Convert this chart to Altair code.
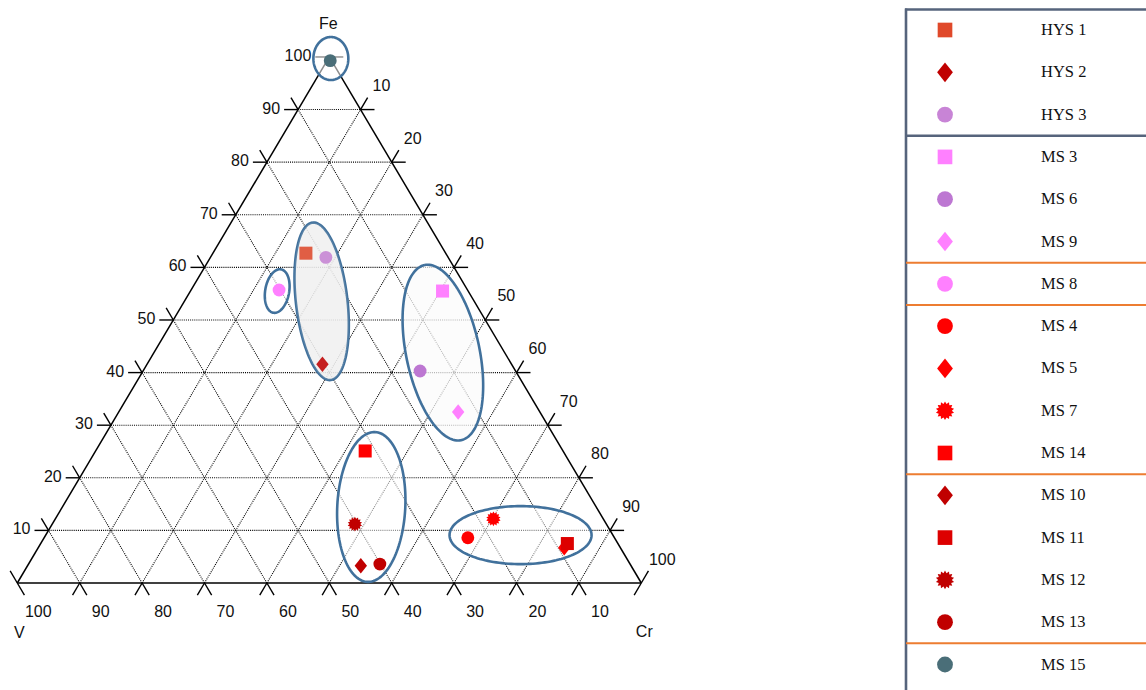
import numpy as np
import pandas as pd
import altair as alt

# ---------------- sample compositions (V + Cr + Fe = 100 %) ----------------
SERIES = ["HYS 1", "HYS 2", "HYS 3", "MS 3", "MS 6", "MS 9", "MS 8",
          "MS 4", "MS 5", "MS 7", "MS 14", "MS 10", "MS 11", "MS 12", "MS 13", "MS 15"]
MARKERS = ["square", "diamond", "circle", "square", "circle", "diamond", "circle",
           "circle", "diamond", "star", "square", "diamond", "square", "star", "circle", "circle"]
COLORS = ["#e0492a", "#c00000", "#c884d6", "#ff80ff", "#bd77d2", "#ff80ff", "#ff80ff",
          "#ff0000", "#ff0000", "#ff0000", "#ff0000", "#c00000", "#dd0000", "#c00000", "#c00000",
          "#4a6e78"]
FE = [62.7, 41.6, 61.9, 55.5, 40.3, 32.5, 55.7, 8.6, 6.7, 12.2, 25.1, 3.3, 7.5, 11.2, 3.6, 99.3]
CR = [14.9, 28.1, 18.5, 40.4, 44.4, 54.4, 14.1, 67.9, 84.3, 70.2, 43.2, 53.4, 84.4, 48.5, 56.3, 0.5]
V = [22.4, 30.3, 19.6, 4.1, 15.3, 13.1, 30.2, 23.5, 9.0, 17.6, 31.7, 43.3, 8.1, 40.3, 40.1, 0.2]
GROUP = [0, 0, 0, 1, 1, 1, 2, 3, 3, 3, 3, 4, 4, 4, 4, 5]

# cluster outlines: centre (Fe, Cr), semi-axes (a along the tilted vertical, b across), tilt in degrees
ELL_FE = [99.7, 55.5, 53.55, 43.8, 14.45, 9.1]
ELL_CR = [0.4, 13.9, 22.0, 46.3, 49.5, 76.1]
ELL_A = [3.45, 3.53, 12.7, 14.33, 12.02, 4.65]
ELL_B = [2.8, 1.92, 4.13, 5.88, 5.45, 11.38]
ELL_TILT = [0, -10, 6.6, 11.8, -3, 0]
ELL_FILL = ["#ffffff", "#ffffff", "#f3f3f3", "#fbfbfb", "#ffffff", "#ffffff"]
ELL_FILL_OP = [0.55, 0.6, 0.86, 0.72, 0.55, 0.5]
HYS_ELLIPSE = 2

TICKS = list(range(0, 101, 10))
GRID = list(range(10, 100, 10))

# ---------------- layout ----------------
W, HT = 1146, 690
H = 0.843             # height of the diagram relative to its base
PX = 6.24             # pixels per percent
X0, Y0 = 17.3, 583.0  # page position of the V corner
TICK_LEN = 14 / PX

FONT = "Liberation Sans"
SERIF = "Liberation Serif"
FRAME = "#56647c"
ORANGE = "#ed7d31"
OUTLINE = "#41719c"


def tern_xy(fe, cr):
    return cr + fe / 2.0, fe * H


def star_path(n=14, r_in=0.74):
    pts = []
    for k in range(2 * n):
        r = 1.0 if k % 2 == 0 else r_in
        ang = np.pi * k / n
        pts.append(f"{r * np.sin(ang):.3f},{-r * np.cos(ang):.3f}")
    return "M" + "L".join(pts) + "Z"


SHAPES = {"square": "square", "circle": "circle",
          "diamond": "M0,-1L0.8,0L0,1L-0.8,0Z", "star": star_path()}
PLOT_SIZE = {"square": 170, "circle": 165, "diamond": 240, "star": 215}
LEG_SIZE = {"square": 215, "circle": 250, "diamond": 390, "star": 345}

XS = alt.Scale(domain=[-X0 / PX, (W - X0) / PX], nice=False, zero=False)
YS = alt.Scale(domain=[(Y0 - HT) / PX, Y0 / PX], nice=False, zero=False)


def ex(f):
    return alt.X(f"{f}:Q", scale=XS, axis=None)


def ey(f):
    return alt.Y(f"{f}:Q", scale=YS, axis=None)


# ---------------- samples ----------------
pts = pd.DataFrame({"series": SERIES, "marker": MARKERS, "color": COLORS,
                    "V": V, "Cr": CR, "Fe": FE, "group": GROUP})
tot = pts["V"] + pts["Cr"] + pts["Fe"]
pts["x"] = (pts["Cr"] + pts["Fe"] / 2) / tot * 100
pts["y"] = pts["Fe"] / tot * 100 * H
pts["shape"] = pts["marker"].map(SHAPES)
pts["size"] = pts["marker"].map(PLOT_SIZE)

# ---------------- grid, edges, ticks ----------------
grid_rows = []
for k in GRID:
    a, b = tern_xy(k, 0), tern_xy(k, 100 - k)          # constant Fe
    grid_rows.append((a[0], a[1], b[0], b[1]))
    a, b = tern_xy(0, k), tern_xy(100 - k, k)          # constant Cr
    grid_rows.append((a[0], a[1], b[0], b[1]))
    a, b = tern_xy(0, 100 - k), tern_xy(100 - k, 0)    # constant V
    grid_rows.append((a[0], a[1], b[0], b[1]))
grid_df = pd.DataFrame(grid_rows, columns=["x", "y", "x2", "y2"])

# corners: V (bottom left), Cr (bottom right), Fe (top)
corners = [tern_xy(0, 0), tern_xy(0, 100), tern_xy(100, 0)]
edge_df = pd.DataFrame([(corners[i][0], corners[i][1], corners[(i + 1) % 3][0], corners[(i + 1) % 3][1])
                        for i in range(3)], columns=["x", "y", "x2", "y2"])

ul = np.array([0.5, H]) / np.hypot(0.5, H)   # direction of the V-Fe edge
ur = np.array([-0.5, H]) / np.hypot(0.5, H)  # direction of the Cr-Fe edge
tick_rows = []


def seg(p, d):
    tick_rows.append((p[0], p[1], p[0] + d[0] * TICK_LEN, p[1] + d[1] * TICK_LEN))


for t in TICKS:
    p = tern_xy(t, 0)                 # left side, Fe = t
    if t > 0:
        seg(p, (-1, 0))
    if t < 100:
        seg(p, ur)
    p = tern_xy(100 - t, t)           # right side, Cr = t
    if t < 100:
        seg(p, (1, 0))
    if t > 0:
        seg(p, ul)
    p = tern_xy(0, t)                 # base
    if t > 0:
        seg(p, -ul)
    if t < 100:
        seg(p, -ur)
tick_df = pd.DataFrame(tick_rows, columns=["x", "y", "x2", "y2"])

left_lab = pd.DataFrame([(tern_xy(t, 0)[0], tern_xy(t, 0)[1], str(t)) for t in TICKS if t > 0],
                        columns=["x", "y", "label"])
right_lab = pd.DataFrame([(tern_xy(100 - t, t)[0], tern_xy(100 - t, t)[1], str(t)) for t in TICKS if t > 0],
                         columns=["x", "y", "label"])
base_lab = pd.DataFrame([(tern_xy(0, t)[0], tern_xy(0, t)[1], str(100 - t)) for t in TICKS if t < 100],
                        columns=["x", "y", "label"])

# ---------------- cluster ellipses ----------------
out_rows, fill_rows = [], []
for i in range(len(ELL_FE)):
    cx, cy = tern_xy(ELL_FE[i], ELL_CR[i])
    a, b = ELL_A[i], ELL_B[i]
    phi = np.radians(ELL_TILT[i])
    u = np.array([-np.sin(phi), np.cos(phi)])
    v = np.array([np.cos(phi), np.sin(phi)])
    t = np.linspace(0, 2 * np.pi, 145)
    ox = cx + a * np.cos(t) * u[0] + b * np.sin(t) * v[0]
    oy = cy + a * np.cos(t) * u[1] + b * np.sin(t) * v[1]
    for k in range(len(t)):
        out_rows.append((i, k, ox[k], oy[k]))
    A = u[0] ** 2 / a ** 2 + v[0] ** 2 / b ** 2
    B = 2 * (u[0] * u[1] / a ** 2 + v[0] * v[1] / b ** 2)
    C = u[1] ** 2 / a ** 2 + v[1] ** 2 / b ** 2
    xmax = np.sqrt(4 * C / (4 * A * C - B ** 2))
    dx = xmax * np.sin(np.linspace(-1, 1, 91) * np.pi / 2)
    disc = np.clip(B ** 2 * dx ** 2 - 4 * C * (A * dx ** 2 - 1), 0, None)
    ylo = (-B * dx - np.sqrt(disc)) / (2 * C)
    yhi = (-B * dx + np.sqrt(disc)) / (2 * C)
    for k in range(len(dx)):
        fill_rows.append((i, cx + dx[k], cy + ylo[k], cy + yhi[k], ELL_FILL[i], ELL_FILL_OP[i]))
out_df = pd.DataFrame(out_rows, columns=["eid", "k", "x", "y"])
fill_df = pd.DataFrame(fill_rows, columns=["eid", "x", "ylo", "yhi", "fill", "op"])

# ---------------- legend table ----------------
LEG_Y = alt.Scale(domain=[-30 / 42.3, (HT - 30) / 42.3], reverse=True, nice=False, zero=False)
leg = pd.DataFrame({"row": range(len(SERIES)), "series": SERIES, "color": COLORS,
                    "shape": [SHAPES[m] for m in MARKERS], "size": [LEG_SIZE[m] for m in MARKERS]})
sep_rows = []
for i in range(1, len(GROUP)):
    if GROUP[i] != GROUP[i - 1]:
        first = GROUP[i] == 1
        sep_rows.append((i - 0.5, FRAME if first else ORANGE, 2.5 if first else 2.0))
sep_df = pd.DataFrame(sep_rows, columns=["row", "color", "w"])
one = pd.DataFrame({"k": [0]})

# ---------------- layers ----------------
grid = alt.Chart(grid_df).mark_rule(color="#000000", strokeWidth=1.1, strokeDash=[1, 1.1]).encode(
    x=ex("x"), y=ey("y"), x2="x2", y2="y2")
edges = alt.Chart(edge_df).mark_rule(color="#000000", strokeWidth=1.5).encode(
    x=ex("x"), y=ey("y"), x2="x2", y2="y2")
ticks = alt.Chart(tick_df).mark_rule(color="#000000", strokeWidth=1.4).encode(
    x=ex("x"), y=ey("y"), x2="x2", y2="y2")


def labels(df, **kw):
    return alt.Chart(df).mark_text(font=FONT, fontSize=16, color="#111111", baseline="middle", **kw).encode(
        x=ex("x"), y=ey("y"), text="label:N")


lab_left = labels(left_lab, align="right", dx=-18, dy=-1)
lab_right = labels(right_lab, align="center", dx=21, dy=-23.5)
lab_base = labels(base_lab, align="center", dx=21, dy=29)

corner_df = pd.DataFrame({"x": [c[0] for c in corners], "y": [c[1] for c in corners],
                          "label": ["V", "Cr", "Fe"]})
lab_v = labels(corner_df[corner_df.label == "V"], align="center", dx=2, dy=50)
lab_fe = labels(corner_df[corner_df.label == "Fe"], align="center", dx=-1, dy=-33)
lab_cr = labels(corner_df[corner_df.label == "Cr"], align="center", dx=3, dy=49)

ell_fill = alt.Chart(fill_df).mark_area(strokeWidth=0).encode(
    x=ex("x"), y=alt.Y("ylo:Q", scale=YS, axis=None, stack=None), y2="yhi",
    detail="eid:N", color=alt.Color("fill:N", scale=None),
    opacity=alt.Opacity("op:Q", scale=None))
ell_line = alt.Chart(out_df).mark_line(color=OUTLINE, strokeWidth=2.6).encode(
    x=ex("x"), y=ey("y"), detail="eid:N", order="k:Q")
hys_haze = alt.Chart(fill_df[fill_df.eid == HYS_ELLIPSE]).mark_area(
    strokeWidth=0, color="#e6e6e6", opacity=0.14).encode(
    x=ex("x"), y=alt.Y("ylo:Q", scale=YS, axis=None, stack=None), y2="yhi")

marks_main = alt.Chart(pts.drop(columns=["marker"])).mark_point(filled=True, opacity=1).encode(
    x=ex("x"), y=ey("y"),
    color=alt.Color("color:N", scale=None),
    shape=alt.Shape("shape:N", scale=None),
    size=alt.Size("size:Q", scale=None),
    tooltip=["series:N", "V:Q", "Cr:Q", "Fe:Q"])

# legend panel
frame_left = alt.Chart(one).mark_rule(color=FRAME, strokeWidth=2.6).encode(
    x=alt.value(906), y=alt.value(8.5), y2=alt.value(HT))
frame_top = alt.Chart(one).mark_rule(color=FRAME, strokeWidth=2.6).encode(
    x=alt.value(905), x2=alt.value(W), y=alt.value(9.5))
seps = alt.Chart(sep_df).mark_rule().encode(
    x=alt.value(906), x2=alt.value(W),
    y=alt.Y("row:Q", scale=LEG_Y, axis=None),
    color=alt.Color("color:N", scale=None),
    strokeWidth=alt.StrokeWidth("w:Q", scale=None))
leg_marks = alt.Chart(leg).mark_point(filled=True, opacity=1).encode(
    x=alt.value(945), y=alt.Y("row:Q", scale=LEG_Y, axis=None),
    color=alt.Color("color:N", scale=None),
    shape=alt.Shape("shape:N", scale=None),
    size=alt.Size("size:Q", scale=None))
leg_text = alt.Chart(leg).mark_text(font=SERIF, fontSize=16.5, color="#111111",
                                    align="left", baseline="middle").encode(
    x=alt.value(1041), y=alt.Y("row:Q", scale=LEG_Y, axis=None), text="series:N")

chart = alt.layer(
    grid, edges, ticks, lab_left, lab_right, lab_base, lab_v, lab_fe, lab_cr,
    ell_fill, ell_line, marks_main, hys_haze,
    frame_left, frame_top, seps, leg_marks, leg_text,
).resolve_scale(x="independent", y="independent").properties(
    width=W, height=HT, padding=0, background="white",
    autosize=alt.AutoSizeParams(type="none"),
).configure_view(stroke=None)

chart.save("out.html", embed_options={"renderer": "svg", "actions": False})
